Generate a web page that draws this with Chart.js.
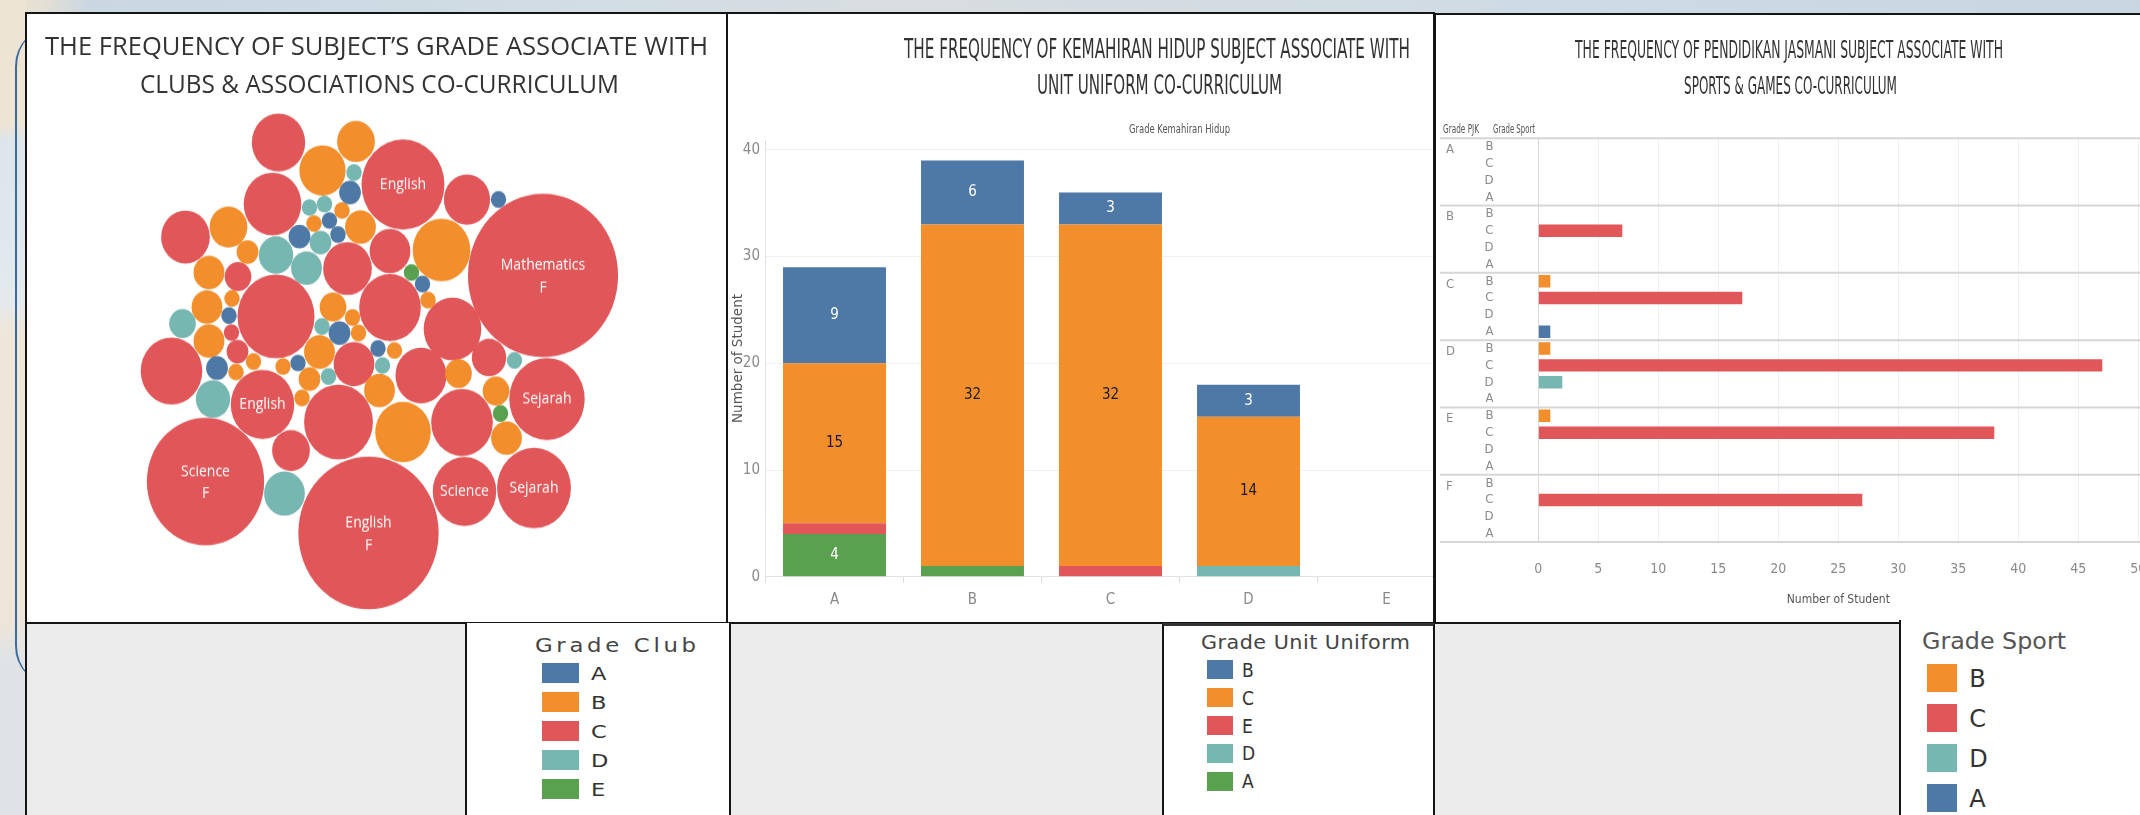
<!DOCTYPE html>
<html><head><meta charset="utf-8">
<script src="https://cdn.jsdelivr.net/npm/chart.js@4.4.1/dist/chart.umd.min.js"></script>
<style>
html,body{margin:0;padding:0;width:2140px;height:815px;overflow:hidden;background:#fff;position:relative;font-family:'Open Sans',sans-serif;}
.abs{position:absolute;box-sizing:border-box;}
</style></head><body>
<div class="abs" style="left:0;top:0;width:2140px;height:14px;background:linear-gradient(90deg,#e9e0cf 0,#e6e0d4 40px,#c9d7e1 90px,#d2dde5 600px,#d8dde0 900px,#cfdbe4 1500px,#c8d6e0 2140px);"></div>
<div class="abs" style="left:0;top:0;width:26px;height:815px;background:linear-gradient(180deg,#ede4d4 0,#ede4d4 125px,#dde5eb 140px,#e3e9ed 300px,#efe6da 330px,#eee5d9 620px,#dfe3e6 660px,#dfe3e6 815px);"></div>
<div class="abs" style="left:15px;top:26px;width:80px;height:660px;border-left:2px solid #3d6b99;border-radius:40px 0 0 40px;"></div>

<div class="abs" style="left:25px;top:12px;width:703px;height:612px;background:#fff;border:2px solid #151515;"></div>
<div class="abs" style="left:726px;top:12px;width:709px;height:612px;background:#fff;border:2px solid #151515;"></div>
<div class="abs" style="left:1434px;top:13px;width:706px;height:609px;background:#fff;border-top:2px solid #151515;border-left:2px solid #151515;"></div>
<div class="abs" style="left:25px;top:622px;width:1876px;height:193px;background:#ececec;border-top:2px solid #151515;border-left:2px solid #151515;"></div>
<div class="abs" style="left:465px;top:623px;width:266px;height:192px;background:#fff;border-left:2px solid #151515;border-right:2px solid #151515;"></div>
<div class="abs" style="left:1162px;top:623px;width:273px;height:192px;background:#fff;border-left:2px solid #151515;border-right:2px solid #151515;border-top:3px solid #333;"></div>
<div class="abs" style="left:1899px;top:620px;width:241px;height:195px;background:#fff;border-left:2px solid #151515;"></div>

<div class="abs" style="left:28px;top:14px;width:698px;height:608px;"><canvas id="c1" width="698" height="559" style="width:698px;height:608px;display:block"></canvas></div>
<div class="abs" style="left:728px;top:14px;width:705px;height:608px;overflow:hidden;"><canvas id="c2" width="740" height="608" style="width:740px;height:608px;display:block"></canvas></div>
<div class="abs" style="left:1436px;top:14px;width:704px;height:608px;overflow:hidden;"><canvas id="c3" width="704" height="608" style="width:704px;height:608px;display:block"></canvas></div>

<script>
// ================= DATA =================
// Panel 1: packed bubbles (club grade, student count, layout position, label)
const clubGrades = ['A','B','C','D','E'];
const clubGradeColors = ['#4e79a7','#f28e2b','#e15759','#76b7b2','#59a14f'];

const bubbleGrade = [
 'C','C','C','C','C','C','C','C','C','C','C','C','C','C','C','C','C','C','C','C','C','C','C','C','C','C','C',
 'B','B','B','B','B','B','B','B','B','B','B','B','B','B','B','B','B','B','B','B','B','B','B','B','B','B','B','B',
 'D','D','D','D','D','D','D','D','D','D','D','D','D',
 'A','A','A','A','A','A','A','A','A','A','A',
 'E','E'];
const bubbleCount = [
 12,14,10,10,3,25,1,2,16,7,20,17,6,58,83,29,9,95,7,16,14,5,11,16,24,17,23,
 6,9,1,1,4,6,2,4,4,1,4,3,1,1,1,1,1,2,1,4,4,14,1,1,3,3,4,13,
 1,1,1,2,5,4,3,1,1,5,1,1,7,
 2,1,2,1,1,2,1,2,1,1,1,
 1,1];
const bubbleX = [
 278.5,272.5,185.5,347.5,238,276,231.5,237.5,171.5,354,338.5,262.5,291,205.5,368.5,403,467,543,390,390,452.5,489,421,462,547,464.5,534,
 356,322.5,342,314,360.5,228.5,247.5,209,207,232,209,333,352.5,358.5,236,253.5,283,309.5,302,319.5,379.5,441.5,428,394.5,458.5,496,506.5,403,
 354,309.5,324.5,320.5,276,306.5,182.5,322,328.5,213,382.5,514.5,284.5,
 350,329.5,299.5,338,229,339.5,378,217,298,498.5,422.5,
 411.5,500.5];
const bubbleY = [
 142.5,204,237,268.5,276.5,316.5,332.5,351.5,371,364,422,404.5,450.5,481.5,533,184.5,199.5,275.5,251,307.5,329,357.5,375.5,422.5,399,491.5,488,
 141.5,170.5,210.5,223.5,227,227,252,272.5,307,298.5,341,307,317.5,333,372,361.5,366.5,379,398,352,390.5,250,300,350.5,373.5,391,438,432,
 172.5,207.5,204,242.5,255,268,323.5,326.5,376.5,399,365.5,360.5,493.5,
 192.5,220.5,236.5,234.5,315.5,333,348.5,368,363,199.5,284,
 272.5,413.5];
const bubbleLabel = [
 '','','','','','','','','','','','English','','Science\nF','English\nF','English','','Mathematics\nF','','','','','','','Sejarah','Science','Sejarah',
 '','','','','','','','','','','','','','','','','','','','','','','','','','','','',
 '','','','','','','','','','','','','',
 '','','','','','','','','','','',
 '',''];

// Panel 2: stacked bars (Grade Kemahiran Hidup x Grade Unit Uniform)
const kemahiranGrades = ['A','B','C','D','E'];
const uniformStackOrder = ['A','D','E','C','B'];          // bottom -> top
const uniformColors = {B:'#4e79a7', C:'#f28e2b', E:'#e15759', D:'#76b7b2', A:'#59a14f'};
const uniformLabelColors = {B:'#ffffff', C:'#1a1a1a', E:'#ffffff', D:'#ffffff', A:'#ffffff'};
const uniformA = [4,1,0,0,0];
const uniformD = [0,0,0,1,0];
const uniformE = [1,0,1,0,0];
const uniformC = [15,32,32,14,0];
const uniformB = [9,6,3,3,0];
const uniformLegend = ['B','C','E','D','A'];

// Panel 3: horizontal bars (Grade PJK x Grade Sport)
const pjkGrades = ['A','B','C','D','E','F'];
const sportOrder = ['B','C','D','A'];
const sportColors = {B:'#f28e2b', C:'#e15759', D:'#76b7b2', A:'#4e79a7'};
const sportB = [0,0,1,1,1,0];
const sportC = [0,7,17,47,38,27];
const sportD = [0,0,0,2,0,0];
const sportA = [0,0,1,0,0,0];
const sportTicks = [0,50,5]; // min, max, step

// ================= HELPERS =================
const NARROW = "'Liberation Sans Narrow','Arial Narrow','DejaVu Sans Condensed','Liberation Sans',sans-serif";
const C1_TOP = 14, C1_W = 698, C1_H = 559, C1_CSS_H = 608;
const STRETCH = C1_CSS_H / C1_H;

function placeText(str, o){
  const el=document.createElement('div');
  el.className='abs';
  el.style.whiteSpace='nowrap';
  el.style.fontFamily=o.family; el.style.fontSize=o.size+'px'; el.style.color=o.color||'#333';
  el.style.lineHeight='1'; el.style.left='0px'; el.style.top='0px'; el.style.zIndex=5;
  if(o.weight) el.style.fontWeight=o.weight;
  el.appendChild(document.createTextNode(str));
  const probe=document.createElement('span');
  probe.style.cssText='display:inline-block;width:0;height:0;vertical-align:baseline;';
  el.appendChild(probe);
  document.body.appendChild(el);
  const r=el.getBoundingClientRect();
  const base=probe.getBoundingClientRect().top-r.top;
  let w=r.width, left;
  const sx=o.sx||1;
  if(o.sx){ el.style.transformOrigin='0 0'; el.style.transform='scaleX('+sx+')'; }
  if(o.width){
    if(o.fit==='spacing'){
      const n=[...str].length;
      el.style.letterSpacing=((o.width/sx-w)/(n-1))+'px';
    } else {
      el.style.transformOrigin='0 0';
      el.style.transform='scaleX('+(o.width/w)+')';
    }
    w=o.width;
  } else w=w*sx;
  left = o.align==='left' ? o.x : o.x - w/2;
  el.style.left=left+'px';
  el.style.top=(o.baseline-base)+'px';
  return el;
}
function swatch(x,y,w,h,color){
  const d=document.createElement('div');
  d.className='abs';
  d.style.cssText+=`left:${x}px;top:${y}px;width:${w}px;height:${h}px;background:${color};z-index:5;`;
  document.body.appendChild(d);
}

// ================= PANEL 1: BUBBLES =================
const RADIUS_UNIT = 7.7;
const bubbleDatasets = clubGrades.map((g,gi)=>{
  const pts=[];
  bubbleGrade.forEach((bg,i)=>{
    if(bg===g) pts.push({x:bubbleX[i], y:bubbleY[i], r:RADIUS_UNIT*Math.sqrt(bubbleCount[i]), count:bubbleCount[i], label:bubbleLabel[i]});
  });
  return {label:g, data:pts, backgroundColor:clubGradeColors[gi], borderWidth:0, hoverBorderWidth:0, clip:false};
});
// Chart.js insets the bubble chart area by the largest radius; compensate in the scale ranges
const INSET = RADIUS_UNIT*Math.sqrt(Math.max(...bubbleCount));
const bubbleLabelPlugin={
  id:'bubbleLabels',
  afterDatasetsDraw(chart){
    const ctx=chart.ctx; ctx.save();
    ctx.fillStyle='#ffffff'; ctx.font="14px 'Open Sans'"; ctx.textAlign='center'; ctx.textBaseline='middle';
    chart.data.datasets.forEach((ds,di)=>{
      chart.getDatasetMeta(di).data.forEach((el,i)=>{
        const lbl=ds.data[i].label; if(!lbl) return;
        const lines=lbl.split('\n');
        if(lines.length===1) ctx.fillText(lines[0], el.x, el.y);
        else { ctx.fillText(lines[0], el.x, el.y-10/STRETCH); ctx.fillText(lines[1], el.x, el.y+12.5/STRETCH); }
      });
    });
    ctx.restore();
  }
};
new Chart(document.getElementById('c1'),{
  type:'bubble',
  data:{datasets:bubbleDatasets},
  options:{
    responsive:false, animation:false, devicePixelRatio:1,
    layout:{padding:0},
    plugins:{legend:{display:false}, tooltip:{enabled:false}},
    scales:{
      x:{type:'linear', display:false, min:28+INSET, max:28+C1_W-INSET},
      y:{type:'linear', display:false, min:C1_TOP+INSET*STRETCH, max:C1_TOP+(C1_H-INSET)*STRETCH, reverse:true}
    }
  },
  plugins:[bubbleLabelPlugin]
});

// ================= PANEL 2: STACKED BARS =================
const uniformSeries = {A:uniformA, D:uniformD, E:uniformE, C:uniformC, B:uniformB};
const segLabelPlugin={
  id:'segLabels',
  afterDatasetsDraw(chart){
    const ctx=chart.ctx; ctx.save();
    ctx.font=`15px ${NARROW}`; ctx.textAlign='center'; ctx.textBaseline='middle';
    chart.data.datasets.forEach((ds,di)=>{
      chart.getDatasetMeta(di).data.forEach((bar,i)=>{
        const v=ds.data[i]; if(v<2) return;
        ctx.fillStyle=uniformLabelColors[ds.label];
        ctx.fillText(String(v), bar.x, (bar.y+bar.base)/2);
      });
    });
    ctx.restore();
  }
};
new Chart(document.getElementById('c2'),{
  type:'bar',
  data:{labels:kemahiranGrades, datasets:uniformStackOrder.map(g=>({label:g, data:uniformSeries[g], backgroundColor:uniformColors[g], borderWidth:0, categoryPercentage:1, barPercentage:0.746}))},
  options:{
    responsive:false, animation:false, devicePixelRatio:1,
    layout:{padding:{left:0,right:12.5,top:126.3,bottom:0}},
    plugins:{legend:{display:false}, tooltip:{enabled:false}},
    scales:{
      x:{stacked:true,
         grid:{display:true, drawOnChartArea:false, drawTicks:true, tickLength:6, offset:true, color:'#dcdcdc'},
         border:{display:true, color:'#e2e2e2'},
         ticks:{color:'#8a8a8a', font:{family:NARROW, size:15}, padding:8},
         afterFit(s){s.height=45.3; s.paddingLeft=0; s.paddingRight=0;}},
      y:{stacked:true, min:0, max:40.9,
         ticks:{stepSize:10, includeBounds:false, color:'#8a8a8a', font:{family:NARROW, size:15}, padding:5.5},
         grid:{color:'#f0f0f0', drawTicks:false},
         border:{display:true, color:'#e0e0e0'},
         title:{display:true, text:'Number of Student', color:'#555', font:{family:'DejaVu Sans', size:13.5}, padding:{top:2,bottom:0}},
         afterFit(s){s.width=37.5; s.paddingTop=0; s.paddingBottom=0;}}
    }
  },
  plugins:[segLabelPlugin]
});

// ================= PANEL 3: HORIZONTAL BARS =================
const sportSeries={B:sportB, C:sportC, D:sportD, A:sportA};
const rowLabels=[], rowValues=[], rowColors=[];
pjkGrades.forEach((p,pi)=>{
  sportOrder.forEach(s=>{ rowLabels.push(s); rowValues.push(sportSeries[s][pi]); rowColors.push(sportColors[s]); });
});
const groupPlugin={
  id:'pjkGroups',
  afterDraw(chart){
    const {ctx, chartArea, scales:{y}} = chart;
    const per=sportOrder.length;
    ctx.save();
    ctx.strokeStyle='#d6d6d6'; ctx.lineWidth=2;
    for(let g=0; g<=pjkGrades.length; g++){
      let py;
      if(g===0) py=chartArea.top;
      else if(g===pjkGrades.length) py=chartArea.bottom;
      else py=(y.getPixelForValue(g*per-1)+y.getPixelForValue(g*per))/2;
      ctx.beginPath(); ctx.moveTo(4,py); ctx.lineTo(chart.width,py); ctx.stroke();
    }
    ctx.fillStyle='#8a8a8a'; ctx.font=`13px ${NARROW}`; ctx.textAlign='left'; ctx.textBaseline='middle';
    pjkGrades.forEach((p,i)=>{ ctx.fillText(p, 10, y.getPixelForValue(i*per)+3); });
    ctx.restore();
  }
};
new Chart(document.getElementById('c3'),{
  type:'bar',
  data:{labels:rowLabels, datasets:[{label:'Number of Student', data:rowValues, backgroundColor:rowColors, borderWidth:0, barPercentage:0.74, categoryPercentage:1}]},
  options:{
    indexAxis:'y', responsive:false, animation:false, devicePixelRatio:1,
    layout:{padding:{left:0,right:1.7,top:124.3,bottom:0}},
    plugins:{legend:{display:false}, tooltip:{enabled:false}},
    scales:{
      y:{grid:{display:false}, border:{display:true, color:'#dadada'},
         ticks:{color:'#8a8a8a', font:{family:NARROW, size:13}, padding:36.8, autoSkip:false},
         afterFit(s){s.width=102.3; s.paddingTop=0; s.paddingBottom=0;}},
      x:{min:sportTicks[0], max:sportTicks[1],
         ticks:{stepSize:sportTicks[2], color:'#8a8a8a', font:{family:NARROW, size:14}, padding:19},
         grid:{color:'#efefef', drawTicks:false}, border:{display:false},
         title:{display:true, text:'Number of Student', color:'#555', font:{family:NARROW, size:12}, padding:{top:0,bottom:15}},
         afterFit(s){s.height=80; s.paddingLeft=0; s.paddingRight=0;}}
    }
  },
  plugins:[groupPlugin]
});

// ================= TEXTS & LEGENDS =================
placeText('THE FREQUENCY OF SUBJECT\u2019S GRADE ASSOCIATE WITH',{x:376,baseline:55,width:663,family:"'Open Sans'",size:25,color:'#333'});
placeText('CLUBS & ASSOCIATIONS CO-CURRICULUM',{x:379,baseline:93.3,width:479,family:"'Open Sans'",size:25,color:'#333'});

placeText('THE FREQUENCY OF KEMAHIRAN HIDUP SUBJECT ASSOCIATE WITH',{x:1156.7,baseline:57.5,width:506,family:NARROW,size:26,color:'#333'});
placeText('UNIT UNIFORM CO-CURRICULUM',{x:1159,baseline:94.4,width:245,family:NARROW,size:26,color:'#333'});
placeText('Grade Kemahiran Hidup',{x:1179,baseline:133,width:101,family:NARROW,size:12.5,color:'#555'});

placeText('THE FREQUENCY OF PENDIDIKAN JASMANI SUBJECT ASSOCIATE WITH',{x:1788.5,baseline:58.3,width:428,family:NARROW,size:25,color:'#333'});
placeText('SPORTS & GAMES CO-CURRICULUM',{x:1790.5,baseline:94.4,width:213,family:NARROW,size:25,color:'#333'});
placeText('Grade PJK',{x:1443.3,baseline:132.5,width:36,align:'left',family:NARROW,size:12,color:'#555'});
placeText('Grade Sport',{x:1492.7,baseline:132.5,width:42,align:'left',family:NARROW,size:12,color:'#555'});

// Legend: Grade Club
placeText('Grade Club',{x:615.5,baseline:652,width:161,fit:'spacing',sx:1.2,family:"'DejaVu Sans'",size:19,color:'#444'});
clubGrades.forEach((g,i)=>{
  const cy=673.3+29*i;
  swatch(542,cy-10,37,20,clubGradeColors[i]);
  placeText(g,{x:591,baseline:cy+7,align:'left',sx:1.25,family:"'DejaVu Sans'",size:18,color:'#333'});
});
// Legend: Grade Unit Uniform
placeText('Grade Unit Uniform',{x:1305.5,baseline:649,width:209,fit:'spacing',sx:1.15,family:NARROW,size:20,color:'#444'});
uniformLegend.forEach((g,i)=>{
  const cy=669.7+27.9*i;
  swatch(1206.5,cy-9.7,26,19.4,uniformColors[g]);
  placeText(g,{x:1242,baseline:cy+7,align:'left',family:NARROW,size:19,color:'#333'});
});
// Legend: Grade Sport
placeText('Grade Sport',{x:1921.7,baseline:649,width:144,align:'left',family:"'DejaVu Sans'",size:23,color:'#555'});
sportOrder.forEach((g,i)=>{
  const cy=677.9+40*i;
  swatch(1926.7,cy-13.9,30.6,27.7,sportColors[g]);
  placeText(g,{x:1969.3,baseline:cy+8.7,align:'left',family:"'DejaVu Sans'",size:24,color:'#333'});
});
</script>
</body></html>
